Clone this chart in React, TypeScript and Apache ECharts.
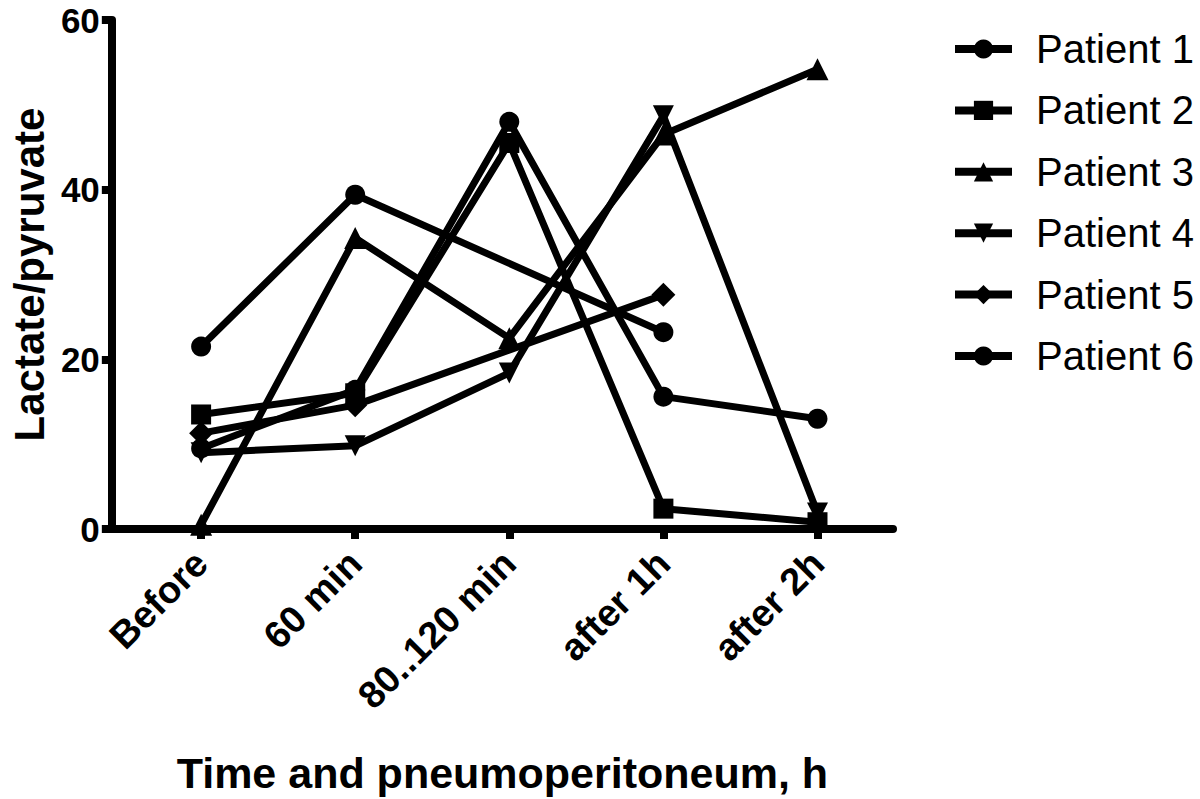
import React, { useEffect, useRef } from "react";
import * as echarts from "echarts";

const categories = ["Before", "60 min", "80..120 min", "after 1h", "after 2h"];
const yTicks = [0, 20, 40, 60];
const patientNames = ["Patient 1", "Patient 2", "Patient 3", "Patient 4", "Patient 5", "Patient 6"];
const patient1 = [21.5, 39.4, null, 23.2, null];
const patient2 = [13.5, 16.0, 45.5, 2.4, 0.8];
const patient3 = [0.5, 34.3, 22.5, 46.5, 54.2];
const patient4 = [9.0, 9.8, 18.4, 48.7, 1.9];
const patient5 = [11.3, 14.6, null, 27.6, null];
const patient6 = [9.5, 16.4, 48.0, 15.6, 13.0];

const FONT = "Liberation Sans, Arial, sans-serif";
const DOWN_TRI = "path://M0,0 L10,0 L5,10 Z";

export default function App() {
  const ref = useRef<HTMLDivElement>(null);
  useEffect(() => {
    if (!ref.current) return;
    const chart = echarts.init(ref.current, undefined, { renderer: "svg" });
    const all = [patient1, patient2, patient3, patient4, patient5, patient6];
    const symbols = ["circle", "rect", "triangle", DOWN_TRI, "diamond", "circle"];
    const sizes = [20, 20, 22, 21, 24, 20];
    const series = all.map((arr, i) => ({
      name: patientNames[i],
      type: "line",
      data: arr.map((v, j) => [j, v === null ? "-" : v]),
      connectNulls: true,
      symbol: symbols[i],
      symbolSize: sizes[i],
      showSymbol: true,
      itemStyle: { color: "#000" },
      lineStyle: { color: "#000", width: 7 },
      z: 2,
    }));
    chart.setOption({
      animation: false,
      backgroundColor: "#fff",
      textStyle: { fontFamily: FONT },
      grid: { left: 103, top: 20, width: 790, height: 513.3, containLabel: false },
      legend: {
        orient: "vertical",
        left: 946,
        top: 24,
        itemWidth: 57,
        itemHeight: 24,
        itemGap: 21.4,
        data: patientNames,
        lineStyle: { color: "#000", width: 8 },
        itemStyle: { color: "#000" },
        textStyle: { fontFamily: FONT, fontSize: 40, color: "#000", padding: [0, 0, 0, 19] },
      },
      xAxis: {
        type: "value",
        min: -0.5794,
        max: 4.49,
        name: "Time and pneumoperitoneum, h",
        nameLocation: "middle",
        nameGap: 222,
        nameTextStyle: { fontFamily: FONT, fontSize: 43, fontWeight: "bold", color: "#000" },
        axisLine: { show: true, onZero: false, lineStyle: { color: "#000", width: 8 } },
        axisTick: { show: true, length: 10, lineStyle: { color: "#000", width: 8 }, customValues: [0, 1, 2, 3, 4] },
        axisLabel: {
          customValues: [0, 1, 2, 3, 4],
          formatter: (v: number) => categories[Math.round(v)] ?? "",
          rotate: 45,
          margin: 28,
          fontFamily: FONT,
          fontSize: 38,
          fontWeight: "bold",
          color: "#000",
        },
        splitLine: { show: false },
      },
      yAxis: {
        type: "value",
        min: yTicks[0],
        max: yTicks[yTicks.length - 1],
        interval: 20,
        name: "Lactate/pyruvate",
        nameLocation: "middle",
        nameGap: 54,
        nameTextStyle: { fontFamily: FONT, fontSize: 42, fontWeight: "bold", color: "#000" },
        axisLine: { show: true, onZero: false, lineStyle: { color: "#000", width: 8 } },
        axisTick: { show: true, length: 10, lineStyle: { color: "#000", width: 8 } },
        axisLabel: { margin: 12, fontFamily: FONT, fontSize: 35, fontWeight: "bold", color: "#000" },
        splitLine: { show: false },
      },
      series,
    });
    return () => chart.dispose();
  }, []);
  return (
    <div
      ref={ref}
      style={{ position: "fixed", left: 0, top: 0, width: 1200, height: 799, background: "#fff" }}
    />
  );
}
